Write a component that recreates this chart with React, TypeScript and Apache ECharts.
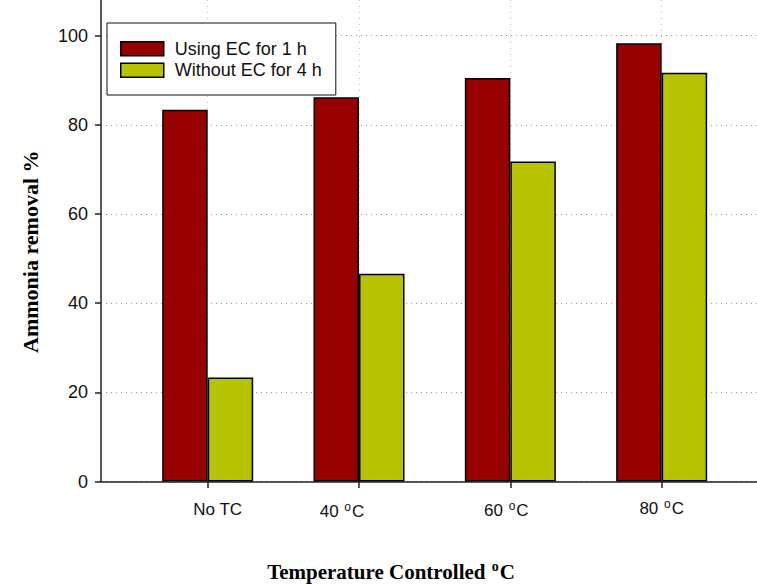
import React, { useEffect, useRef } from "react";
import * as echarts from "echarts";

// ---- data ----
const categories = ["No TC", "40 °C", "60 °C", "80 °C"];
const positions = [1, 2, 3, 4];
const seriesNames = ["Using EC for 1 h", "Without EC for 4 h"];
const usingEC = [83.4, 86.2, 90.5, 98.3];
const withoutEC = [23.3, 46.6, 71.8, 91.7];
const yTicks = [0, 20, 40, 60, 80, 100];
const yTitle = "Ammonia removal %";
const xTitle = "Temperature Controlled °C";

// ---- styles ----
const SANS = "'Liberation Sans', Arial, sans-serif";
const SERIF = "'Liberation Serif', 'Times New Roman', serif";
const RED = "#960000";
const GREEN = "#b6c400";
// per-label nudges [dx, dy] (style only)
const labelShift: [number, number][] = [
  [10, 3],
  [-17, 7],
  [-4, 6],
  [0, 1],
];

function buildRich() {
  const rich: Record<string, any> = {};
  labelShift.forEach(([dx, dy], i) => {
    const pl = Math.max(0, 2 * dx);
    const pr = Math.max(0, -2 * dx);
    const base = { fontSize: 17, fontFamily: SANS, color: "#111", lineHeight: 20 };
    rich[`w${i}`] = { ...base, padding: [dy, pr, 0, pl] };
    rich[`f${i}`] = { ...base, padding: [dy, 0, 0, pl] };
    rich[`s${i}`] = { fontSize: 12, fontFamily: SANS, color: "#111", lineHeight: 12, padding: [dy, 1, 9, 1] };
    rich[`l${i}`] = { ...base, padding: [dy, pr, 0, 0] };
  });
  return rich;
}

function formatCategory(value: number) {
  const i = positions.indexOf(Math.round(value));
  if (i < 0) return "";
  const label = categories[i];
  const k = label.indexOf("°C");
  if (k < 0) return `{w${i}|${label}}`;
  return `{f${i}|${label.slice(0, k)}}{s${i}|o}{l${i}|C}`;
}

export default function App() {
  const ref = useRef<HTMLDivElement>(null);
  useEffect(() => {
    if (!ref.current) return;
    const chart = echarts.init(ref.current, undefined, { renderer: "svg" });
    const k = xTitle.indexOf("°C");
    chart.setOption({
      animation: false,
      backgroundColor: "#fff",
      grid: { left: 101, right: 0, top: 0, bottom: 102.5 },
      legend: {
        orient: "vertical",
        left: 107,
        top: 23,
        data: seriesNames,
        icon: "rect",
        itemWidth: 43,
        itemHeight: 14,
        itemGap: 3.6,
        padding: [16.7, 14, 15.7, 13],
        backgroundColor: "#fff",
        borderColor: "#111",
        borderWidth: 1,
        selectedMode: false,
        itemStyle: { borderColor: "#000", borderWidth: 1.5 },
        textStyle: { fontSize: 18, fontFamily: SANS, color: "#111", padding: [0, 0, 0, 6] },
        z: 10,
      },
      xAxis: {
        type: "value",
        min: 0.295,
        max: 4.63,
        axisLine: { show: true, onZero: false, lineStyle: { color: "#222", width: 1.5 } },
        axisTick: { show: true, length: 6.5, customValues: positions, lineStyle: { color: "#222", width: 1.5 } },
        axisLabel: { customValues: positions, margin: 16, formatter: formatCategory, rich: buildRich() },
        splitLine: { show: true, lineStyle: { color: "#bbb", type: [1, 5], width: 1 } },
      },
      yAxis: {
        type: "value",
        min: 0,
        max: 108,
        axisLine: { show: true, lineStyle: { color: "#222", width: 1.5 } },
        axisTick: { show: true, length: 6, customValues: yTicks, lineStyle: { color: "#222", width: 1.5 } },
        axisLabel: { customValues: yTicks, margin: 13, fontSize: 18, fontFamily: SANS, color: "#111" },
        splitLine: { show: true, lineStyle: { color: "#999", type: [1, 4], width: 1 } },
      },
      series: [
        {
          name: seriesNames[0],
          type: "bar",
          data: positions.map((p, i) => [p, usingEC[i]]),
          barWidth: 45.5,
          barGap: "0%",
          itemStyle: { color: RED, borderColor: "#000", borderWidth: 1.5 },
        },
        {
          name: seriesNames[1],
          type: "bar",
          data: positions.map((p, i) => [p, withoutEC[i]]),
          barWidth: 45.5,
          barGap: "0%",
          itemStyle: { color: GREEN, borderColor: "#000", borderWidth: 1.5 },
        },
      ],
      graphic: [
        {
          type: "text",
          x: 30.5,
          y: 251.7,
          rotation: Math.PI / 2,
          style: {
            text: yTitle,
            fontSize: 22,
            fontWeight: "bold",
            fontFamily: SERIF,
            fill: "#000",
            align: "center",
            verticalAlign: "middle",
          },
        },
        {
          type: "text",
          x: 391,
          y: 571.5,
          style: {
            text: `{m|${xTitle.slice(0, k)}}{s|o}{m|C}`,
            fontSize: 21,
            fontWeight: "bold",
            fontFamily: SERIF,
            fill: "#000",
            align: "center",
            verticalAlign: "middle",
            rich: {
              m: { fontSize: 21, fontWeight: "bold", fontFamily: SERIF, fill: "#000", lineHeight: 24 },
              s: { fontSize: 14, fontWeight: "bold", fontFamily: SERIF, fill: "#000", lineHeight: 14, padding: [0, 1, 10, 1] },
            },
          },
        },
      ],
    });
    return () => chart.dispose();
  }, []);
  return (
    <div
      ref={ref}
      style={{ position: "fixed", left: 0, top: 0, width: 757, height: 584 }}
    />
  );
}
